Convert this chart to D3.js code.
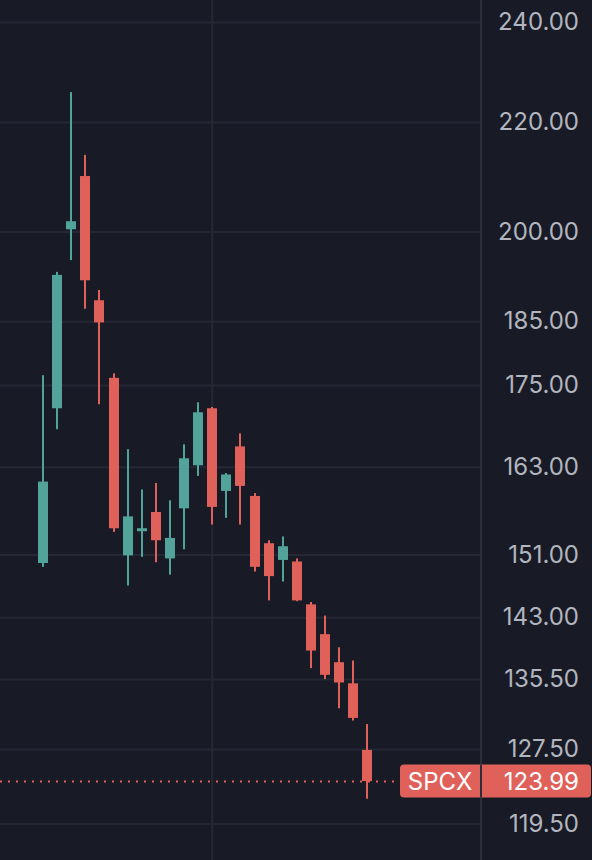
<!DOCTYPE html>
<meta charset="utf-8">
<script src="https://d3js.org/d3.v7.min.js"></script>
<style>
body { margin: 0; background: #181b26; }
svg { display: block; }
.tick text { font-family: Inter, "Noto Sans", sans-serif; }
</style>
<div id="chart"></div>
<script>

// OHLC values (one entry per candle)
var open  = [149.9, 171.5, 200.4, 209.9, 188.4, 176.1, 150.9, 154.1, 156.7, 150.5, 157.2, 163.2,
             171.5, 159.6, 165.9, 158.9, 152.5, 150.3, 150.1, 144.6, 140.9, 137.5, 135.0, 127.4];
var high  = [176.5, 193.1, 225.8, 213.8, 190.1, 176.8, 165.5, 159.8, 160.7, 158.3, 166.2, 172.4,
             171.7, 162.1, 167.8, 159.3, 152.9, 153.4, 150.5, 144.9, 143.2, 139.3, 137.7, 130.3];
var low   = [149.4, 168.4, 195.1, 187.0, 172.1, 154.0, 147.0, 150.7, 150.0, 148.4, 151.7, 161.7,
             155.0, 155.9, 155.0, 148.8, 145.1, 147.5, 145.0, 136.8, 135.5, 132.1, 130.7, 122.1];
var close = [160.9, 192.6, 201.8, 191.7, 184.8, 154.5, 156.1, 154.5, 152.9, 153.2, 164.2, 170.9,
             157.4, 161.9, 160.3, 149.4, 148.2, 152.1, 145.1, 138.9, 136.0, 135.1, 131.0, 123.99];

var priceTicks = [240, 220, 200, 185, 175, 163, 151, 143, 135.5, 127.5, 119.5];
var symbol = "SPCX";
var lastPrice = 123.99;
var gridIndex = 12; // candle where the vertical grid line sits

var W = 592, H = 860, plotRight = 481;
var up = "#52a49a", down = "#e0605a";
var font = "Inter, 'Noto Sans', sans-serif";

var svg = d3.select("#chart").append("svg")
    .attr("width", W)
    .attr("height", H);

svg.append("rect").attr("width", W).attr("height", H).attr("fill", "#181b26");

var y = d3.scaleLog()
    .domain([119.5, 240])
    .range([823.5, 22]);

var x = d3.scaleLinear()
    .domain([0, open.length - 1])
    .range([43, 367.3]);

// horizontal grid + labels
var yAxis = svg.append("g")
    .attr("transform", "translate(" + plotRight + ",0)")
    .call(d3.axisRight(y)
      .tickValues(priceTicks)
      .tickFormat(d3.format(".2f"))
      .tickSize(-plotRight)
      .tickPadding(0));

yAxis.select(".domain").remove();
yAxis.selectAll(".tick line")
    .attr("stroke", "#252834")
    .attr("stroke-width", 2);
yAxis.selectAll(".tick text")
    .attr("x", 98)
    .attr("text-anchor", "end")
    .attr("fill", "#b2b5be")
    .attr("font-size", "24px");

// vertical grid line
svg.append("line")
    .attr("x1", x(gridIndex)).attr("x2", x(gridIndex))
    .attr("y1", 0).attr("y2", H)
    .attr("stroke", "#252834")
    .attr("stroke-width", 2);

var data = open.map(function(o, i) {
  return {i: i, o: o, h: high[i], l: low[i], c: close[i]};
});

var candles = svg.append("g").selectAll("g")
  .data(data)
  .enter().append("g")
    .attr("fill", function(d) { return d.c >= d.o ? up : down; });

candles.append("rect")
    .attr("x", function(d) { return Math.round(x(d.i)) - 1; })
    .attr("width", 2)
    .attr("y", function(d) { return y(d.h); })
    .attr("height", function(d) { return y(d.l) - y(d.h); });

candles.append("rect")
    .attr("x", function(d) { return Math.round(x(d.i)) - 5; })
    .attr("width", 10)
    .attr("y", function(d) { return y(Math.max(d.o, d.c)); })
    .attr("height", function(d) { return Math.max(2.5, Math.abs(y(d.o) - y(d.c))); });

// last price dotted line
svg.append("line")
    .attr("x1", 0).attr("x2", 400)
    .attr("y1", Math.round(y(lastPrice)) + 0.5).attr("y2", Math.round(y(lastPrice)) + 0.5)
    .attr("stroke", down)
    .attr("stroke-width", 2)
    .attr("stroke-dasharray", "2,6");

// axis border
svg.append("line")
    .attr("x1", plotRight).attr("x2", plotRight)
    .attr("y1", 0).attr("y2", H)
    .attr("stroke", "#2c2f3b")
    .attr("stroke-width", 2);

// price label
var ly = y(lastPrice);
svg.append("rect")
    .attr("x", 400).attr("y", ly - 16.5)
    .attr("width", 191).attr("height", 33)
    .attr("rx", 4)
    .attr("fill", down);

svg.append("line")
    .attr("x1", plotRight).attr("x2", plotRight)
    .attr("y1", ly - 16.5).attr("y2", ly + 16.5)
    .attr("stroke", "#2c2f3b")
    .attr("stroke-width", 2);

svg.append("text")
    .attr("x", 440).attr("y", ly)
    .attr("dy", "0.35em")
    .attr("text-anchor", "middle")
    .attr("fill", "#ffffff")
    .attr("font-family", font)
    .attr("font-size", "24px")
    .text(symbol);

svg.append("text")
    .attr("x", 579).attr("y", ly)
    .attr("dy", "0.35em")
    .attr("text-anchor", "end")
    .attr("fill", "#ffffff")
    .attr("font-family", font)
    .attr("font-size", "24px")
    .text(d3.format(".2f")(lastPrice));

</script>
